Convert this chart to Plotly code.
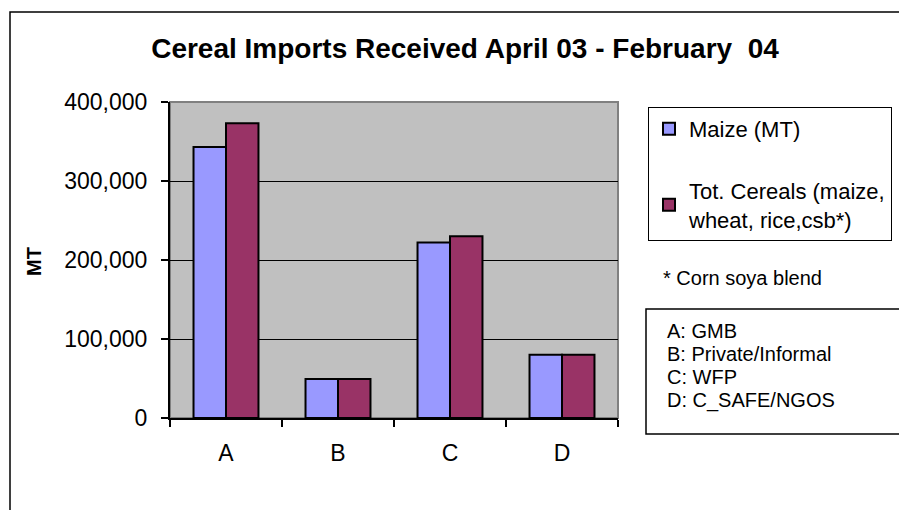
import plotly.graph_objects as go

categories = ["A", "B", "C", "D"]
maize = [343000, 49500, 222000, 80000]
total_cereals = [373000, 49500, 230000, 80000]
series_names = ["Maize (MT)", "Tot. Cereals (maize,<br>wheat, rice,csb*)"]
y_ticks = [0, 100000, 200000, 300000, 400000]
key_lines = ["A: GMB", "B: Private/Informal", "C: WFP", "D: C_SAFE/NGOS"]
footnote = "* Corn soya blend"
title_text = "Cereal Imports Received April 03 - February  04"

OFF = 8  # page body margin of the browser
W, H = 907 - OFF, 510 - OFF
L, R, T, B = 170, 618, 102, 418  # plot area in window px
FONT = "Arial, Liberation Sans, sans-serif"


def px(x):
    return (x - L) / (R - L)


def py(y):
    return (B - y) / (B - T)


fig = go.Figure()
fig.add_trace(go.Bar(x=categories, y=maize, name=series_names[0], legendgroup="g1",
                     marker=dict(color="#9999FF", line=dict(color="black", width=2))))
fig.add_trace(go.Bar(x=categories, y=total_cereals, name=series_names[1], legendgroup="g2",
                     marker=dict(color="#993366", line=dict(color="black", width=2))))

shapes = [
    dict(type="rect", xref="paper", yref="paper", x0=0, x1=1, y0=0, y1=1,
         line=dict(color="#808080", width=2), layer="below"),
    dict(type="rect", xref="paper", yref="paper", x0=px(10), x1=px(903), y0=py(530), y1=py(12),
         line=dict(color="black", width=1.5)),
    dict(type="rect", xref="paper", yref="paper", x0=px(646), x1=px(930), y0=py(434), y1=py(309),
         line=dict(color="black", width=1.5), fillcolor="white"),
]

annotations = [
    dict(text="<b>MT</b>", x=px(34), y=py(262), xref="paper", yref="paper", textangle=-90,
         showarrow=False, font=dict(family=FONT, size=20, color="black"),
         xanchor="center", yanchor="middle"),
    dict(text=footnote, x=px(661), y=py(278), xref="paper", yref="paper", showarrow=False,
         font=dict(family=FONT, size=20, color="black"), xanchor="left", yanchor="middle"),
]
for i, line in enumerate(key_lines):
    annotations.append(dict(text=line, x=px(665), y=py(331 + 23 * i), xref="paper", yref="paper",
                            showarrow=False, font=dict(family=FONT, size=20, color="black"),
                            xanchor="left", yanchor="middle"))

fig.update_layout(
    width=W, height=H,
    margin=dict(l=L - OFF, r=907 - R, t=T - OFF, b=510 - B, pad=0),
    paper_bgcolor="white",
    plot_bgcolor="#C0C0C0",
    barmode="group",
    bargap=0.42,
    bargroupgap=0,
    font=dict(family=FONT, size=22, color="black"),
    title=dict(text="<b>" + title_text + "</b>", x=(465 - OFF) / W, y=1 - (48 - OFF) / H,
               xref="container", yref="container", xanchor="center", yanchor="middle",
               font=dict(family=FONT, size=28, color="black")),
    showlegend=True,
    legend=dict(x=px(648), y=py(107), xanchor="left", yanchor="top",
                bgcolor="white", bordercolor="black", borderwidth=1,
                font=dict(family=FONT, size=22, color="black"),
                tracegroupgap=30, traceorder="grouped"),
    shapes=shapes,
    annotations=annotations,
)

fig.update_xaxes(type="category", tickson="boundaries", ticks="outside", ticklen=7,
                 tickwidth=1.5, tickcolor="black", showline=True, linecolor="black",
                 linewidth=2, showgrid=False, ticklabelstandoff=13,
                 tickfont=dict(family=FONT, size=23, color="black"))
fig.update_yaxes(range=[0, 400000], tickvals=y_ticks, tickformat=",", ticks="outside",
                 ticklen=7, tickwidth=1.5, tickcolor="black", showline=True,
                 linecolor="black", linewidth=2, showgrid=True, gridcolor="black",
                 gridwidth=1, zeroline=False, ticklabelstandoff=9,
                 tickfont=dict(family=FONT, size=23, color="black"))

fig.write_html("out.html")
